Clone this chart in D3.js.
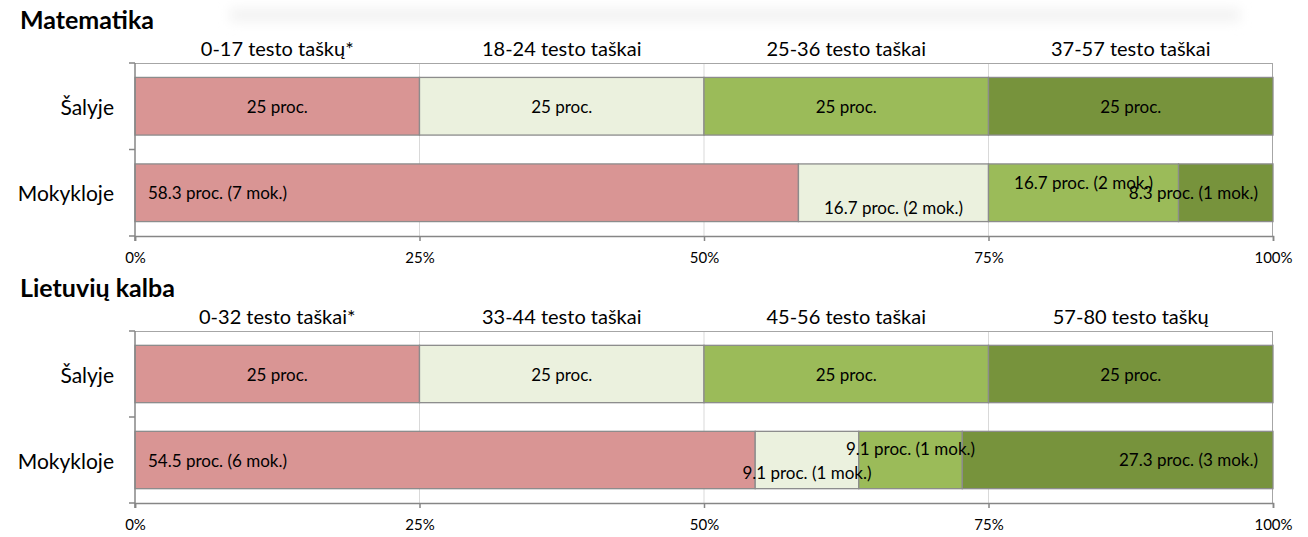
<!DOCTYPE html>
<html>
<head>
<meta charset="utf-8">
<script src="https://cdn.jsdelivr.net/npm/d3@7"></script>
<style>
  body { margin: 0; background: #fff; }
  svg text { font-family: Lato, "Open Sans", sans-serif; fill: #000; }
</style>
</head>
<body>
<div id="draw"></div>
<script>
let W = 1308, H = 537;

// data
let rows = ['Šalyje', 'Mokykloje'];
let colors = ['#D99594', '#EBF1DE', '#9BBB59', '#77933C'];
let ticks = [0, 0.25, 0.5, 0.75, 1];

let mathTitle = 'Matematika';
let mathBands = ['0-17 testo taškų*', '18-24 testo taškai', '25-36 testo taškai', '37-57 testo taškai'];
let mathCountry = [25, 25, 25, 25];
let mathSchool = [58.3, 16.7, 16.7, 8.3];
let mathStudents = [7, 2, 2, 1];

let litTitle = 'Lietuvių kalba';
let litBands = ['0-32 testo taškai*', '33-44 testo taškai', '45-56 testo taškai', '57-80 testo taškų'];
let litCountry = [25, 25, 25, 25];
let litSchool = [54.5, 9.1, 9.1, 27.3];
let litStudents = [6, 1, 1, 3];

// where Excel put each school label: 'start', 'mid', 'end', plus vertical shift
let mathPlace = [['start', 0], ['mid', 15], ['mid', -10], ['end', 0]];
let litPlace = [['start', 0], ['mid', 12], ['mid', -12], ['end', -1]];

let svg = d3.select('#draw').append('svg').attr('width', W).attr('height', H);

// faint shadow band behind the top title
let defs = svg.append('defs');
defs.append('filter').attr('id', 'soft')
  .attr('x', '-10%').attr('y', '-100%').attr('width', '120%').attr('height', '300%')
  .append('feGaussianBlur').attr('stdDeviation', 6);
svg.append('rect')
  .attr('x', 230).attr('y', 8).attr('width', 1010).attr('height', 14)
  .attr('fill', '#f3f3f3').attr('filter', 'url(#soft)');

let x = d3.scaleLinear().domain([0, 1]).range([135, 1273]);

function drawChart(top, bottom, title, bands, country, school, students, place) {
  let g = svg.append('g');
  let y = d3.scaleBand().domain(rows).range([top, bottom]).paddingInner(1/3).paddingOuter(1/6);

  g.append('text').attr('x', 20).attr('y', top - 34)
    .attr('font-size', 25).attr('font-weight', 'bold').text(title);

  // band headers centred over each quarter
  g.selectAll('.hdr').data(bands).enter().append('text')
    .attr('x', (d, i) => x(i * 0.25 + 0.125))
    .attr('y', top - 7)
    .attr('text-anchor', 'middle')
    .attr('font-size', 20)
    .text(d => d);

  // gridlines
  g.selectAll('.grid').data(ticks.slice(1, 4)).enter().append('line')
    .attr('x1', d => x(d)).attr('x2', d => x(d))
    .attr('y1', top).attr('y2', bottom)
    .attr('stroke', '#d9d9d9').attr('stroke-width', 1);

  // frame top / right
  g.append('line').attr('x1', x(0)).attr('x2', x(1)).attr('y1', top + 0.5).attr('y2', top + 0.5)
    .attr('stroke', '#a6a6a6');
  g.append('line').attr('x1', x(1) - 0.5).attr('x2', x(1) - 0.5).attr('y1', top).attr('y2', bottom)
    .attr('stroke', '#a6a6a6');

  let barG = g.append('g');
  let lblG = g.append('g'); // labels above all bars so overflow stays visible
  let vals = [country, school];
  rows.forEach((r, ri) => {
    let v = vals[ri];
    let cum = 0;
    v.forEach((p, i) => {
      let x0 = x(cum / 100), x1 = x((cum + p) / 100);
      cum += p;
      barG.append('rect')
        .attr('x', x0).attr('y', y(r))
        .attr('width', x1 - x0).attr('height', y.bandwidth())
        .attr('fill', colors[i]).attr('stroke', '#8c8c8c').attr('stroke-width', 1.3);
      let cy = y(r) + y.bandwidth() / 2;
      let t = lblG.append('text').attr('font-size', 17).attr('dominant-baseline', 'central');
      if (ri === 0) {
        t.attr('x', (x0 + x1) / 2).attr('y', cy).attr('text-anchor', 'middle').text(p + ' proc.');
      } else {
        let pl = place[i];
        let tx = pl[0] === 'start' ? x0 + 13 : pl[0] === 'end' ? x1 - 15 : (x0 + x1) / 2;
        t.attr('x', tx).attr('y', cy + pl[1])
          .attr('text-anchor', pl[0] === 'mid' ? 'middle' : pl[0])
          .text(p + ' proc. (' + students[i] + ' mok.)');
      }
    });
  });

  // category labels
  g.selectAll('.cat').data(rows).enter().append('text')
    .attr('x', 114).attr('y', d => y(d) + y.bandwidth() / 2)
    .attr('text-anchor', 'end').attr('dominant-baseline', 'central')
    .attr('font-size', 21).text(d => d);

  // left axis with ticks between categories
  let ly = [top, (top + bottom) / 2, bottom];
  g.append('line').attr('x1', x(0)).attr('x2', x(0)).attr('y1', top).attr('y2', bottom + 5)
    .attr('stroke', '#868686').attr('stroke-width', 1.5);
  g.selectAll('.lt').data(ly).enter().append('line')
    .attr('x1', x(0) - 6).attr('x2', x(0)).attr('y1', d => d).attr('y2', d => d)
    .attr('stroke', '#868686').attr('stroke-width', 1.5);

  // bottom axis
  let ax = g.append('g').attr('transform', 'translate(0,' + bottom + ')')
    .call(d3.axisBottom(x).tickValues(ticks).tickFormat(d3.format('.0%')).tickSize(5).tickPadding(11));
  ax.select('.domain').attr('stroke', '#868686').attr('stroke-width', 1.5);
  ax.selectAll('.tick line').attr('stroke', '#868686').attr('stroke-width', 1.5);
  ax.selectAll('.tick text').attr('font-size', 15).attr('font-family', 'Lato, sans-serif').attr('fill', '#000');
}

drawChart(63, 236, mathTitle, mathBands, mathCountry, mathSchool, mathStudents, mathPlace);
drawChart(331, 503, litTitle, litBands, litCountry, litSchool, litStudents, litPlace);
</script>
</body>
</html>
